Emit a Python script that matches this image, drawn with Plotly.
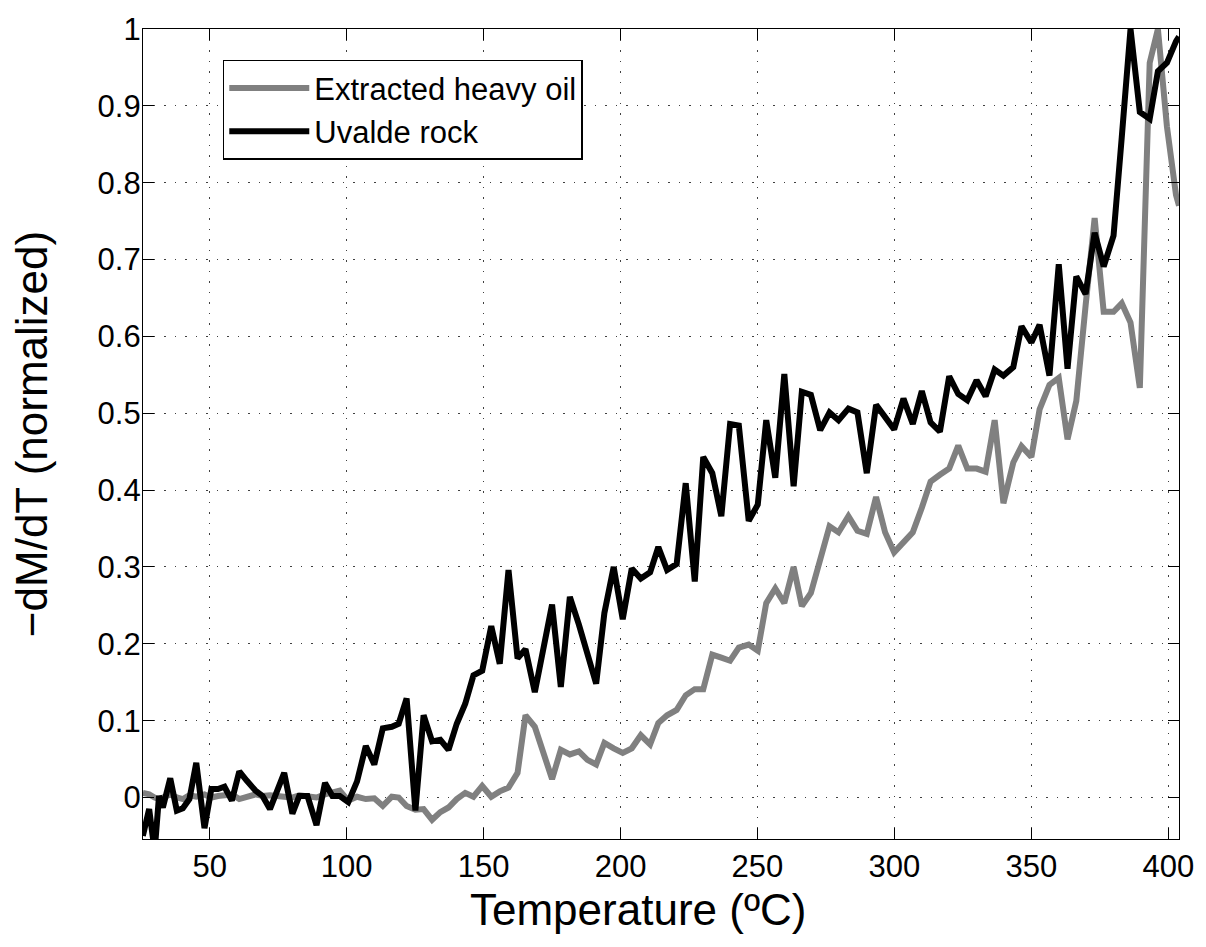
import plotly.graph_objects as go

temperature = [25.6, 27.9, 29.9, 31.5, 32.9, 35.6, 38.0, 40.2, 42.6, 45.1,
               48.1, 50.6, 53.0, 55.4, 58.1, 60.8, 63.5, 66.7, 69.3, 72.0,
               77.2, 80.2, 82.7, 85.7, 89.0, 92.1, 94.8, 97.5, 100.6, 103.8,
               107.0, 110.1, 113.2, 116.5, 119.0, 121.9, 125.1, 128.1, 131.2, 134.2,
               137.2, 140.2, 143.3, 146.3, 149.5, 152.8, 155.9, 159.1, 162.4, 165.3,
               168.7, 171.8, 175.0, 178.2, 181.5, 184.8, 187.9, 191.1, 194.1, 197.5,
               200.8, 204.1, 207.4, 210.8, 213.8, 217.0, 220.5, 223.8, 227.1, 230.2,
               233.5, 236.8, 240.0, 243.2, 246.8, 250.1, 253.2, 256.5, 259.8, 263.2,
               266.2, 269.5, 272.9, 276.3, 279.6, 283.2, 286.5, 289.9, 293.3, 296.6,
               299.9, 303.3, 306.7, 310.0, 313.2, 316.6, 320.0, 323.3, 326.6, 330.0,
               333.3, 336.6, 339.8, 343.4, 346.4, 350.0, 353.0, 356.6, 360.0, 363.2,
               366.4, 369.8, 373.1, 376.4, 380.0, 383.0, 386.2, 389.6, 393.2, 396.2,
               399.5, 402.8, 403.9]

heavy_oil = [0.006, 0.004, 0.000, -0.002, 0.000, 0.004, 0.000, -0.002, 0.003, 0.001,
             0.004, 0.000, 0.002, 0.003, 0.004, -0.002, 0.000, 0.004, 0.002, 0.003,
             0.001, 0.000, 0.003, 0.002, 0.000, 0.004, 0.006, 0.009, -0.004, 0.001,
             -0.002, -0.001, -0.011, 0.001, 0.000, -0.011, -0.016, -0.015, -0.029, -0.019,
             -0.013, -0.002, 0.006, 0.001, 0.015, 0.001, 0.008, 0.013, 0.032, 0.107,
             0.092, 0.058, 0.024, 0.062, 0.056, 0.060, 0.049, 0.043, 0.071, 0.064,
             0.058, 0.064, 0.081, 0.069, 0.097, 0.107, 0.114, 0.133, 0.141, 0.141,
             0.186, 0.182, 0.178, 0.195, 0.199, 0.191, 0.253, 0.272, 0.253, 0.300,
             0.249, 0.266, 0.313, 0.353, 0.345, 0.366, 0.347, 0.343, 0.391, 0.345,
             0.319, 0.332, 0.345, 0.377, 0.411, 0.420, 0.428, 0.458, 0.428, 0.428,
             0.424, 0.491, 0.383, 0.436, 0.457, 0.443, 0.505, 0.537, 0.546, 0.466,
             0.516, 0.640, 0.754, 0.632, 0.632, 0.643, 0.618, 0.533, 0.956, 1.000,
             0.873, 0.784, 0.770]

uvalde_rock = [-0.050, -0.015, -0.070, 0.002, -0.013, 0.025, -0.017, -0.014, -0.002, 0.045,
               -0.040, 0.011, 0.011, 0.014, -0.004, 0.034, 0.022, 0.009, 0.002, -0.015,
               0.032, -0.021, 0.002, 0.002, -0.036, 0.019, 0.002, 0.002, -0.006, 0.021,
               0.067, 0.043, 0.090, 0.092, 0.096, 0.129, -0.017, 0.107, 0.073, 0.075,
               0.062, 0.096, 0.122, 0.159, 0.165, 0.223, 0.174, 0.296, 0.181, 0.193,
               0.137, 0.194, 0.251, 0.144, 0.261, 0.225, 0.186, 0.148, 0.240, 0.300,
               0.232, 0.298, 0.285, 0.293, 0.326, 0.296, 0.304, 0.409, 0.281, 0.443,
               0.422, 0.366, 0.486, 0.484, 0.360, 0.381, 0.491, 0.416, 0.551, 0.405,
               0.528, 0.524, 0.478, 0.501, 0.491, 0.506, 0.501, 0.422, 0.511, 0.495,
               0.479, 0.519, 0.486, 0.529, 0.488, 0.476, 0.548, 0.525, 0.517, 0.543,
               0.522, 0.557, 0.549, 0.560, 0.613, 0.592, 0.615, 0.549, 0.694, 0.558,
               0.678, 0.655, 0.735, 0.691, 0.731, 0.859, 1.000, 0.892, 0.883, 0.945,
               0.956, 0.984, 0.990]

x_ticks = [50, 100, 150, 200, 250, 300, 350, 400]
y_ticks = [0, 0.1, 0.2, 0.3, 0.4, 0.5, 0.6, 0.7, 0.8, 0.9, 1]
y_tick_labels = ["0", "0.1", "0.2", "0.3", "0.4", "0.5", "0.6", "0.7", "0.8", "0.9", "1"]
x_title = "Temperature (ºC)"
y_title = "−dM/dT (normalized)"

FONT = "Liberation Sans, Arial, Helvetica, sans-serif"

fig = go.Figure()
fig.add_trace(go.Scatter(x=temperature, y=heavy_oil, mode="lines",
                         name="Extracted heavy oil",
                         line=dict(color="#808080", width=6)))
fig.add_trace(go.Scatter(x=temperature, y=uvalde_rock, mode="lines",
                         name="Uvalde rock",
                         line=dict(color="#000000", width=6)))

axis_common = dict(
    showline=True, linecolor="black", linewidth=1.3, mirror="ticks",
    ticks="inside", ticklen=11, tickwidth=1.3, tickcolor="black",
    showgrid=True, gridcolor="rgba(0,0,0,0.75)", gridwidth=1, griddash="1.5px,9px",
    zeroline=False,
    tickfont=dict(family=FONT, size=31, color="black"),
)

fig.update_xaxes(range=[25.65, 403.9], tickvals=x_ticks, **axis_common)
fig.update_yaxes(range=[-0.054, 1.0], tickvals=y_ticks, ticktext=y_tick_labels,
                 ticklabelstandoff=-5,
                 title=dict(text=y_title, font=dict(family=FONT, size=44, color="black"),
                            standoff=36),
                 **axis_common)

fig.add_annotation(text=x_title, xref="paper", yref="paper",
                   x=0.478, y=-0.0875, xanchor="center", yanchor="middle",
                   showarrow=False, font=dict(family=FONT, size=44, color="black"))

fig.update_layout(
    width=1206, height=947,
    margin=dict(l=143, r=22, t=19, b=108),
    paper_bgcolor="white", plot_bgcolor="white",
    showlegend=True,
    legend=dict(x=0.077, y=0.962, xanchor="left", yanchor="top",
                bgcolor="white", bordercolor="black", borderwidth=1.5,
                font=dict(family=FONT, size=31, color="black"),
                itemwidth=80, tracegroupgap=0),
)

fig.write_html("out.html")
